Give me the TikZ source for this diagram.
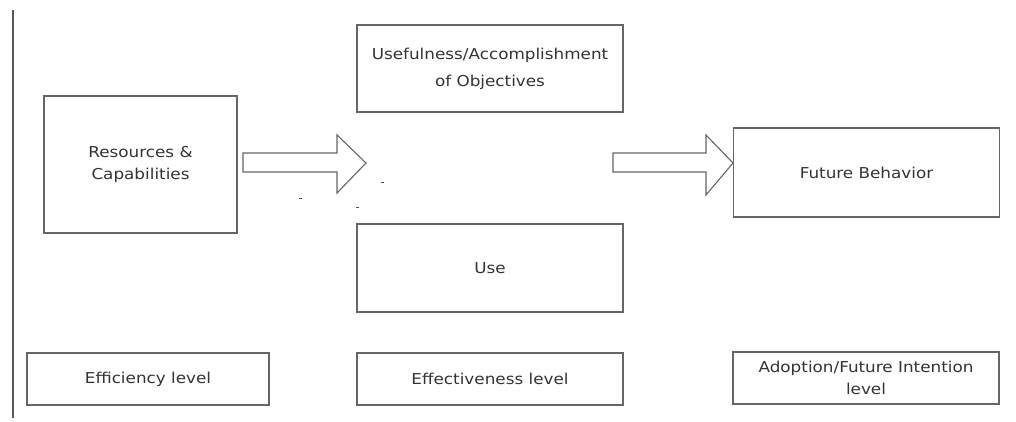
\documentclass[tikz,border=0pt]{standalone}
\usepackage{xcolor}
\usepackage{fontspec}
\setmainfont{DejaVu Sans}[FakeStretch=1.12]
\usepackage{tikz}
\usetikzlibrary{positioning}

\begin{document}
\begin{tikzpicture}[x=1pt, y=-1pt,
  box/.style={rectangle, draw=black!60, line width=1.1pt, text=black!80, align=center,
    inner sep=0pt, font=\fontsize{15}{22}\selectfont},
  blockarrow/.style={draw=black!60, line width=1.1pt, fill=white, line join=miter}]
\useasboundingbox (0,0) rectangle (1016,421);
\draw [black!65, line width=1.5pt] (13,10) -- (13,418);
% top row
\node [box, minimum width=193pt, minimum height=137pt] (RC) at (140.5,164.5) {Resources \&\\Capabilities};
\node [box, minimum width=266pt, minimum height=87pt, font=\fontsize{15}{27}\selectfont] (UA) at (490,68.5) {Usefulness/Accomplishment\\of Objectives};
\node [box, minimum width=266pt, minimum height=88pt] (U) at (490,268) {Use};
\node [box, minimum width=266pt, minimum height=89pt] (FB) at (866.5,172.5) {Future Behavior};
% level row
\node [box, minimum width=242pt, minimum height=52pt] (EF) at (148,379) {Efficiency level};
\node [box, minimum width=266pt, minimum height=52pt] (EV) at (490,379) {Effectiveness level};
\node [box, minimum width=266pt, minimum height=52pt] (AD) at (866,378) {Adoption/Future Intention\\level};
% block arrows
\draw [blockarrow] (243,153) -- (337,153) -- (337,135) -- (366,163) -- (337,193) -- (337,172) -- (243,172) -- cycle;
\draw [blockarrow] (613,153) -- (706,153) -- (706,135) -- (733,163) -- (706,195) -- (706,172) -- (613,172) -- cycle;
% stray marks
\fill [black!70] (299,197.5) rectangle (302,199);
\fill [black!70] (381,181.5) rectangle (384,183);
\fill [black!70] (356,206.5) rectangle (359,208);
\end{tikzpicture}
\end{document}
